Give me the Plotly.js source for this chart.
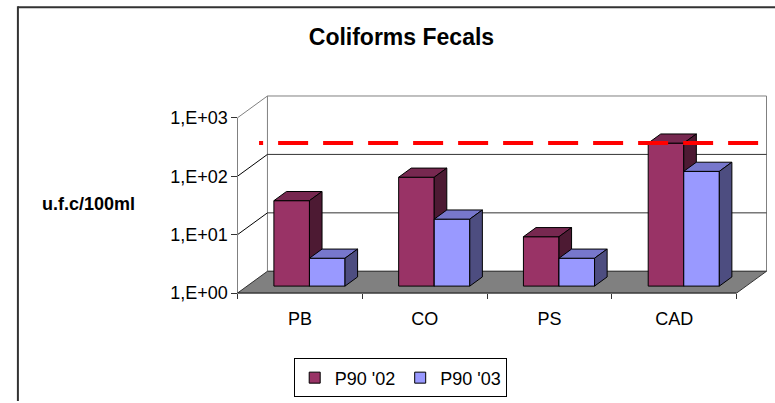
<!DOCTYPE html>
<html><head><meta charset="utf-8">
<script src="https://cdn.plot.ly/plotly-3.0.1.min.js"></script>
<style>html,body{margin:0;padding:0;background:#fff}#chart{width:775px;height:403px}</style>
</head><body><div id="chart"></div>
<script>
// ---- data ----
const categories = ['PB', 'CO', 'PS', 'CAD'];
const seriesNames = ["P90 '02", "P90 '03"];
const p90_02 = [29, 73, 7, 280];
const p90_03 = [3, 14, 3, 92];
const limitValue = 200;
const yTickVals = [1, 10, 100, 1000];
const yTickText = ['1,E+00', '1,E+01', '1,E+02', '1,E+03'];
const chartTitle = 'Coliforms Fecals';
const yTitle = 'u.f.c/100ml';

// ---- styles / geometry ----
const FONT = 'Liberation Sans, Arial, sans-serif';
const faceColors = [
  {front: '#993366', top: '#772850', side: '#4d1a33'},
  {front: '#9999ff', top: '#7777cc', side: '#4d4d80'}
];
const DX = 0.24;     // depth shift in x units
const DY = 0.373;    // depth shift in decades
const F0 = 0.32, F1 = 0.74, FL = 0.72;
const GAP = 0.215, W = 0.285;
const XR = [-0.02, 4.26], YR = [-0.05, 3.39];
const L = 234.5, R = 5.5, T = 95, B = 105.05;
const PW = 775 - L - R, PH = 403 - T - B;
const px2x = p => (p - L) / PW;
const px2y = p => (403 - B - p) / PH;

const nCat = categories.length;
const lift = f => Math.pow(10, f * DY);
const sx = (x, f) => x + f * DX;
const sy = (v, f) => v * lift(f);

const traces = [];
function lineTrace(xs, ys, color, width) {
  traces.push({type: 'scatter', mode: 'lines', x: xs, y: ys, line: {color: color, width: width},
    showlegend: false, hoverinfo: 'skip'});
}
function poly(pts, fill, lineColor) {
  const xs = pts.map(p => sx(p[0], p[2])), ys = pts.map(p => sy(p[1], p[2]));
  xs.push(xs[0]); ys.push(ys[0]);
  traces.push({type: 'scatter', mode: 'lines', x: xs, y: ys, fill: 'toself', fillcolor: fill,
    line: {color: lineColor, width: lineColor ? 1 : 0}, showlegend: false, hoverinfo: 'skip'});
}

const yMax = yTickVals[yTickVals.length - 1];
// back wall
poly([[0, 1, 1], [nCat, 1, 1], [nCat, yMax, 1], [0, yMax, 1]], '#ffffff', '#808080');
// floor
poly([[0, 1, 0], [nCat, 1, 0], [nCat, 1, 1], [0, 1, 1]], '#808080', null);
// back wall gridlines + left wall diagonals
(function () {
  const gx = [], gy = [], dx = [], dy = [];
  yTickVals.slice(1, -1).forEach(v => {
    gx.push(sx(0, 1), sx(nCat, 1), null); gy.push(sy(v, 1), sy(v, 1), null);
    dx.push(0, sx(0, 1), null); dy.push(v, sy(v, 1), null);
  });
  lineTrace(gx, gy, '#333333', 1);
  lineTrace(dx, dy, '#000000', 1);
  lineTrace([0, 0, sx(0, 1)], [1, yMax, sy(yMax, 1)], '#808080', 1);
  lineTrace([0, sx(0, 1), sx(nCat, 1), nCat], [1, sy(1, 1), sy(1, 1), 1], '#333333', 1);
  lineTrace([0, nCat], [1, 1], '#000000', 1);
})();

// bars
const seriesVals = [p90_02, p90_03];
for (let i = 0; i < nCat; i++) {
  for (let s = 0; s < seriesVals.length; s++) {
    const v = seriesVals[s][i];
    const x0 = i + GAP + s * W, x1 = x0 + W;
    const c = faceColors[s];
    poly([[x0, 1, F0], [x1, 1, F0], [x1, v, F0], [x0, v, F0]], c.front, '#000000');
    poly([[x0, v, F0], [x1, v, F0], [x1, v, F1], [x0, v, F1]], c.top, '#000000');
    poly([[x1, 1, F0], [x1, 1, F1], [x1, v, F1], [x1, v, F0]], c.side, '#000000');
  }
}

// limit line (drawn right to left so the dash pattern matches)
traces.push({type: 'scatter', mode: 'lines', x: [sx(nCat, FL), sx(0, FL)],
  y: [sy(limitValue, FL), sy(limitValue, FL)],
  line: {color: '#ff0000', width: 4, dash: '30px,15px'}, showlegend: false, hoverinfo: 'skip'});

// legend entries
seriesNames.forEach((n, s) => {
  traces.push({type: 'scatter', mode: 'markers', x: [null], y: [null], name: n,
    marker: {symbol: 'square', size: 11, color: faceColors[s].front, line: {color: '#000', width: 1}}});
});

const layout = {
  width: 775, height: 403,
  margin: {l: L, r: R, t: T, b: B, pad: 0},
  paper_bgcolor: '#ffffff', plot_bgcolor: 'rgba(0,0,0,0)',
  font: {family: FONT, size: 18, color: '#000'},
  showlegend: true,
  title: {text: chartTitle, font: {family: FONT, size: 23, weight: 'bold', color: '#000'},
    xref: 'container', yref: 'container', x: 0.518, y: 1 - 37 / 403, xanchor: 'center', yanchor: 'middle'},
  xaxis: {type: 'linear', range: XR, showgrid: false, zeroline: false, showline: false,
    anchor: 'free', position: (403 - B - 295) / PH,
    tickmode: 'array', tickvals: categories.map((c, i) => i + 0.5), ticktext: categories,
    ticks: '', ticklabelstandoff: 13, tickfont: {family: FONT, size: 18, color: '#000'},
    minor: {tickmode: 'array', tickvals: categories.map((c, i) => i).concat([nCat]), ticks: 'outside', ticklen: 5,
      tickcolor: '#333', tickwidth: 1, showgrid: false},
    fixedrange: true},
  yaxis: {type: 'log', range: YR, showgrid: false, zeroline: false, showline: false,
    anchor: 'free', position: (237 - L) / PW,
    tickmode: 'array', tickvals: yTickVals, ticktext: yTickText,
    ticks: 'outside', ticklen: 6, tickcolor: '#333', tickwidth: 1,
    tickfont: {family: FONT, size: 18, color: '#000'}, fixedrange: true},
  legend: {orientation: 'h', x: px2x(400), xanchor: 'center', y: px2y(361), yanchor: 'top',
    bordercolor: '#000', borderwidth: 1, bgcolor: '#fff', font: {family: FONT, size: 18, color: '#000'},
    itemwidth: 30, tracegroupgap: 0},
  annotations: [{text: '<b>' + yTitle + '</b>', xref: 'paper', yref: 'paper', x: px2x(88), y: px2y(205),
    xanchor: 'center', yanchor: 'middle', showarrow: false, font: {family: FONT, size: 18, color: '#000'}}],
  shapes: [
    {type: 'line', xref: 'paper', yref: 'paper', x0: px2x(17), x1: px2x(776), y0: px2y(6.5), y1: px2y(6.5),
      line: {color: '#333', width: 2}},
    {type: 'line', xref: 'paper', yref: 'paper', x0: px2x(17), x1: px2x(17), y0: px2y(5.5), y1: px2y(404),
      line: {color: '#333', width: 2}}
  ]
};

Plotly.newPlot('chart', traces, layout, {staticPlot: true, displayModeBar: false});
</script></body></html>
